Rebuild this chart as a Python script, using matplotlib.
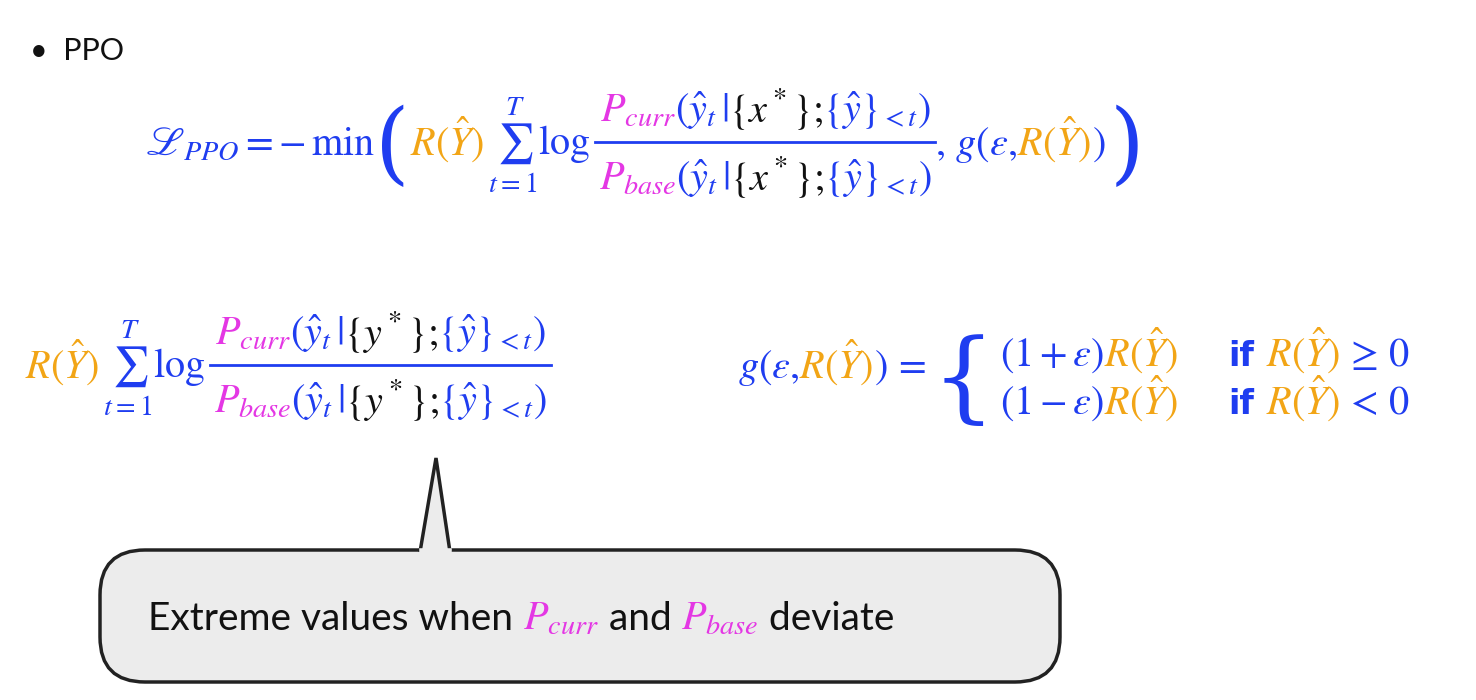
import matplotlib
matplotlib.use("Agg")
import matplotlib.pyplot as plt
from matplotlib.patches import FancyBboxPatch, Polygon

plt.rcParams['mathtext.fontset'] = 'stix'

W, H = 1476, 700
BLUE = '#1f3df0'
ORANGE = '#f2a516'
MAG = '#e437e4'
BLACK = '#111111'

bullet_title = "PPO"
callout_words = ["Extreme values when ", "$P_{curr}$", " and ", "$P_{base}$", " deviate"]

fig = plt.figure(figsize=(W / 100, H / 100), dpi=100)
fig.patch.set_facecolor('white')
ax = fig.add_axes([0, 0, 1, 1])
ax.set_xlim(0, W)
ax.set_ylim(H, 0)
ax.axis('off')
renderer = fig.canvas.get_renderer()


def put(x, y, s, color, size, **kw):
    t = fig.text(x / W, 1 - y / H, s, color=color, fontsize=size, va='baseline', ha='left', **kw)
    bb = t.get_window_extent(renderer)
    return x + bb.width, t


def seq(x, y, pieces, size, **kw):
    for s, c in pieces:
        x, _ = put(x, y, s, c, size, **kw)
    return x


def width(pieces, size):
    x = seq(0, -500, pieces, size)
    for t in fig.texts[-len(pieces):]:
        t.remove()
    return x


def frac(x, ybar, num, den, size):
    wn, wd = width(num, size), width(den, size)
    w = max(wn, wd) + 8
    seq(x + (w - wn) / 2, ybar - 20, num, size)
    seq(x + (w - wd) / 2, ybar + 48, den, size)
    ax.plot([x, x + w], [ybar, ybar], color=BLUE, lw=2)
    return x + w


def ratio_parts(var):
    num = [("$P_{curr}$", MAG), (r"$(\hat{y}_t\,|\,$", BLUE), (r"$\{%s^*\};\,$" % var, BLACK),
           (r"$\{\hat{y}\}_{<t})$", BLUE)]
    den = [("$P_{base}$", MAG), (r"$(\hat{y}_t\,|\,$", BLUE), (r"$\{%s^*\};\,$" % var, BLACK),
           (r"$\{\hat{y}\}_{<t})$", BLUE)]
    return num, den


FS = 29
RY = r"$R(\hat{Y})$"

# bullet
fig.text(30 / W, 1 - 60 / H, "\u2022  " + bullet_title, fontsize=22, color=BLACK, family='Lato', va='baseline')

# line 1
y1 = 155
x = seq(145, y1, [(r"$\mathscr{L}_{PPO} = -\,\min\,$", BLUE)], FS)
x, _ = put(x, y1 + 18, "(", BLUE, 64, family='DejaVu Serif', fontweight='light')
x = seq(x, y1, [(RY, ORANGE), (r"$\,\sum_{t=1}^{T}\log\,$", BLUE)], FS)
num, den = ratio_parts("x")
x = frac(x + 4, y1 - 13, num, den, FS)
x = seq(x, y1, [(r"$,\,g(\epsilon,$", BLUE), (RY, ORANGE), ("$)$", BLUE)], FS)
put(x + 4, y1 + 18, ")", BLUE, 64, family='DejaVu Serif', fontweight='light')

# line 2 left
y2 = 378
x = seq(25, y2, [(RY, ORANGE), (r"$\,\sum_{t=1}^{T}\log\,$", BLUE)], FS)
num, den = ratio_parts("y")
frac(x + 4, y2 - 13, num, den, FS)

# line 2 right
x = seq(738, y2, [(r"$g(\epsilon,$", BLUE), (RY, ORANGE), ("$)\, =$", BLUE)], FS)
put(x + 6, y2 + 32, "{", BLUE, 72, family='DejaVu Serif')
for row, (sign, rel) in enumerate([("+", r"\geq"), ("-", "<")]):
    yy = 366 + row * 48
    xx = seq(1000, yy, [(r"$(1 %s \epsilon)$" % sign, BLUE), (RY, ORANGE)], FS)
    xx, _ = put(1228, yy, "if", BLUE, 24, fontweight='bold', family='DejaVu Sans')
    seq(xx + 12, yy, [(RY, ORANGE), (r"$\, %s \, 0$" % rel, BLUE)], FS)

# callout
GRAY = '#ececec'
box = FancyBboxPatch((100, 550), 960, 132, boxstyle="round,pad=0,rounding_size=45",
                     facecolor=GRAY, edgecolor='#222222', lw=2.5)
ax.add_patch(box)
tri = Polygon([(420, 552), (436, 458), (450, 552)], closed=False,
              facecolor=GRAY, edgecolor='#222222', lw=2.5)
ax.add_patch(tri)
ax.plot([421.5, 448.5], [551, 551], color=GRAY, lw=4)

cw = [(s, MAG if s.startswith("$") else BLACK) for s in callout_words]
tw = width(cw, 29)
x = 580 - tw / 2
for s, c in cw:
    x, _ = put(x, 630, s, c, 29 if s.startswith("$") else 28, family='Lato')

fig.savefig("out.png", dpi=100)
